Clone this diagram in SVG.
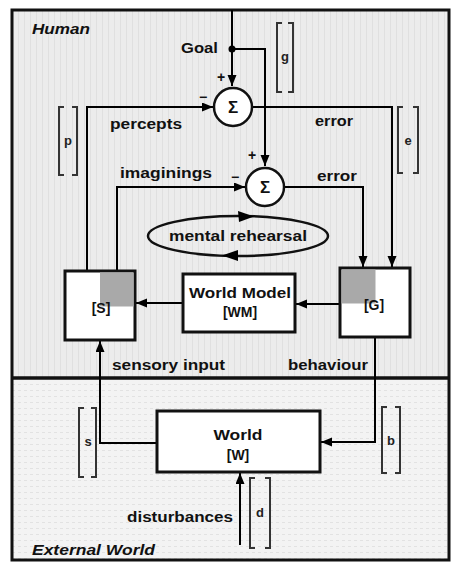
<svg xmlns="http://www.w3.org/2000/svg" width="461" height="563" viewBox="0 0 461 563">
<defs>
<pattern id="stripes" width="6" height="6" patternUnits="userSpaceOnUse">
<rect width="6" height="6" fill="#ececec"/>
<rect x="0" width="1" height="6" fill="#e0e0e0"/>
</pattern>
<pattern id="dots" width="6" height="6" patternUnits="userSpaceOnUse">
<rect width="6" height="6" fill="#f3f3f3"/>
<rect x="0" y="0" width="3" height="1" fill="#e2e2e2"/>
</pattern>
<marker id="ah" markerWidth="12" markerHeight="10" refX="11" refY="4.5" orient="auto" markerUnits="userSpaceOnUse">
<path d="M0,0 L11,4.5 L0,9 z" fill="#000"/>
</marker>
</defs>
<style>
.t{font-family:"Liberation Sans",Arial,sans-serif;font-weight:bold;font-size:14px;fill:#111}
.ti{font-family:"Liberation Sans",Arial,sans-serif;font-weight:bold;font-style:italic;font-size:14px;fill:#111}
.br{fill:none;stroke:#333;stroke-width:2}
.bl{font-family:"Liberation Sans",Arial,sans-serif;font-weight:bold;font-size:13px;fill:#222;text-anchor:middle}
.ln{fill:none;stroke:#000;stroke-width:2}
.box{fill:#fff;stroke:#111;stroke-width:3}
.sig{fill:#fff;stroke:#111;stroke-width:2.5}
.sg{font-family:"Liberation Sans",Arial,sans-serif;font-weight:bold;font-size:17px;fill:#111;text-anchor:middle}
.c{text-anchor:middle}
</style>
<rect width="461" height="563" fill="#fff"/>
<g id="regions">
<rect x="12" y="10" width="437" height="368" fill="url(#stripes)"/>
<rect x="12" y="378" width="437" height="182" fill="url(#dots)"/>
<rect x="12" y="10" width="437" height="550" fill="none" stroke="#111" stroke-width="3"/>
<line x1="12" y1="378" x2="449" y2="378" stroke="#111" stroke-width="3.5"/>
<text class="ti" x="32" y="34" textLength="58" lengthAdjust="spacingAndGlyphs">Human</text>
<text class="ti" x="32" y="555" textLength="123" lengthAdjust="spacingAndGlyphs">External World</text>
</g>
<g id="connectors">
<path class="ln" d="M232,10 V86" marker-end="url(#ah)"/>
<path class="ln" d="M232,49 H265 V166" marker-end="url(#ah)"/>
<path class="ln" d="M87,271 V107 H213" marker-end="url(#ah)"/>
<path class="ln" d="M252,107 H392 V267" marker-end="url(#ah)"/>
<path class="ln" d="M117,271 V187 H245" marker-end="url(#ah)"/>
<path class="ln" d="M284,187 H363 V267" marker-end="url(#ah)"/>
<path class="ln" d="M340,304 H296" marker-end="url(#ah)"/>
<path class="ln" d="M183,303 H136" marker-end="url(#ah)"/>
<path class="ln" d="M157,443 H100 V341" marker-end="url(#ah)"/>
<path class="ln" d="M375,338 V442 H321" marker-end="url(#ah)"/>
<path class="ln" d="M240,545 V473" marker-end="url(#ah)"/>
<circle cx="232" cy="49" r="3.5" fill="#000"/>
<text class="t" x="181" y="53" textLength="37" lengthAdjust="spacingAndGlyphs">Goal</text>
<text class="t c" x="221" y="82">+</text>
<text class="t c" x="203" y="102">−</text>
<text class="t c" x="252" y="160">+</text>
<text class="t c" x="235" y="182">−</text>
<text class="t" x="110" y="129" textLength="72" lengthAdjust="spacingAndGlyphs">percepts</text>
<text class="t" x="315" y="126" textLength="38" lengthAdjust="spacingAndGlyphs">error</text>
<text class="t" x="120" y="178" textLength="92" lengthAdjust="spacingAndGlyphs">imaginings</text>
<text class="t" x="317" y="181" textLength="40" lengthAdjust="spacingAndGlyphs">error</text>
<text class="t" x="112" y="370" textLength="113" lengthAdjust="spacingAndGlyphs">sensory input</text>
<text class="t" x="288" y="370" textLength="80" lengthAdjust="spacingAndGlyphs">behaviour</text>
<text class="t" x="127" y="522" textLength="106" lengthAdjust="spacingAndGlyphs">disturbances</text>
</g>
<g id="brackets">
<path class="br" d="M282,23 H277 V92 H282 M288,23 H293 V92 H288"/>
<text class="bl" x="285" y="61">g</text>
<path class="br" d="M403,107 H398 V173 H403 M413,107 H418 V173 H413"/>
<text class="bl" x="408" y="145">e</text>
<path class="br" d="M64,107 H59 V175 H64 M72,107 H77 V175 H72"/>
<text class="bl" x="68" y="145">p</text>
<path class="br" d="M84,408 H79 V477 H84 M91,408 H96 V477 H91"/>
<text class="bl" x="88" y="446">s</text>
<path class="br" d="M387,407 H382 V473 H387 M395,407 H400 V473 H395"/>
<text class="bl" x="391" y="445">b</text>
<path class="br" d="M255,478 H250 V548 H255 M265,478 H270 V548 H265"/>
<text class="bl" x="260" y="517">d</text>
</g>
<g id="sum1">
<circle class="sig" cx="233" cy="107" r="19"/>
<text class="sg" x="233" y="113">Σ</text>
</g>
<g id="sum2">
<circle class="sig" cx="265" cy="187" r="19"/>
<text class="sg" x="265" y="193">Σ</text>
</g>
<g id="mental-rehearsal">
<ellipse cx="238" cy="236" rx="90" ry="20" fill="none" stroke="#111" stroke-width="2.5"/>
<path d="M254,216.5 L238,211 L239,222 z" fill="#000"/>
<path d="M222,255.5 L238,250 L238,261 z" fill="#000"/>
<text class="t c" x="238" y="241" textLength="138" lengthAdjust="spacingAndGlyphs">mental rehearsal</text>
</g>
<g id="S">
<rect class="box" x="65" y="271" width="70" height="69"/>
<rect x="100" y="272.5" width="33.5" height="34" fill="#a9a9a9"/>
<text class="t c" x="101" y="313">[S]</text>
</g>
<g id="G">
<rect class="box" x="340" y="268" width="70" height="69"/>
<rect x="341.5" y="269.5" width="34" height="34" fill="#a9a9a9"/>
<text class="t c" x="374" y="310">[G]</text>
</g>
<g id="WM">
<rect class="box" x="183" y="274" width="112" height="58"/>
<text class="t c" x="240" y="298" textLength="102" lengthAdjust="spacingAndGlyphs">World Model</text>
<text class="t c" x="240" y="317">[WM]</text>
</g>
<g id="W">
<rect class="box" x="157" y="411" width="163" height="61"/>
<text class="t c" x="238" y="440" textLength="49" lengthAdjust="spacingAndGlyphs">World</text>
<text class="t c" x="238" y="460">[W]</text>
</g>
</svg>
